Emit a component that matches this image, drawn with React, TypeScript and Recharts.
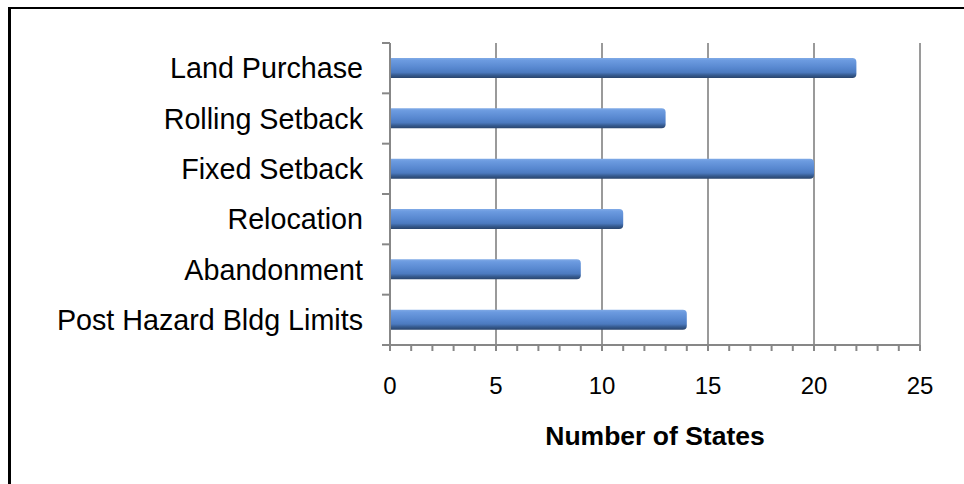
import { BarChart, Bar, XAxis, YAxis, CartesianGrid } from 'recharts'

// values
const categories = [
  'Land Purchase',
  'Rolling Setback',
  'Fixed Setback',
  'Relocation',
  'Abandonment',
  'Post Hazard Bldg Limits',
]
const states = [22, 13, 20, 11, 9, 14]
const xTicks = [0, 1, 2, 3, 4, 5, 6, 7, 8, 9, 10, 11, 12, 13, 14, 15, 16, 17, 18, 19, 20, 21, 22, 23, 24, 25]
const labelledTicks = [0, 5, 10, 15, 20, 25]
const gridValues = [5, 10, 15, 20, 25]

const data = categories.map((name, i) => ({ name, states: states[i] }))

const FONT = '"Liberation Sans", Arial, Helvetica, sans-serif'
const AXIS = '#878787'
const Y_TICK_SIZE = 8
const Y_TICK_MARGIN = 19

function CategoryTick(props: any) {
  const { x, y, payload, index, visibleTicksCount } = props
  const axisX = x + Y_TICK_SIZE + Y_TICK_MARGIN
  const half = payload.offset ?? 0
  const last = index === visibleTicksCount - 1
  return (
    <g>
      <line x1={axisX - Y_TICK_SIZE} x2={axisX} y1={y - half} y2={y - half} stroke={AXIS} strokeWidth={2} />
      {last && (
        <line x1={axisX - Y_TICK_SIZE} x2={axisX} y1={y + half} y2={y + half} stroke={AXIS} strokeWidth={2} />
      )}
      <text x={x} y={y} dy="0.355em" textAnchor="end" fontSize={28.7} fontFamily={FONT} fill="#000">
        {payload.value}
      </text>
    </g>
  )
}

function ValueTick(props: any) {
  const { x, y, payload } = props
  if (!labelledTicks.includes(payload.value)) return <g />
  return (
    <text x={x} y={y} dy="0.71em" textAnchor="middle" fontSize={24} fontFamily={FONT} fill="#000">
      {payload.value}
    </text>
  )
}

export default function App() {
  return (
    <div style={{ position: 'relative', width: 964, height: 484, overflow: 'hidden', background: '#fff' }}>
      <style>{'body{margin:0}'}</style>
      <div
        style={{
          position: 'absolute',
          left: 8,
          top: 7,
          width: 2000,
          height: 2000,
          borderLeft: '3px solid #000',
          borderTop: '2px solid #000',
        }}
      />
      <div style={{ position: 'absolute', left: 0, top: 0 }}>
        <BarChart
          width={964}
          height={484}
          data={data}
          layout="vertical"
          margin={{ top: 43, right: 44, bottom: 39, left: 0 }}
        >
          <defs>
            <linearGradient id="barFill" x1="0" y1="0" x2="0" y2="1">
              <stop offset="0%" stopColor="#80aae6" />
              <stop offset="12%" stopColor="#6c9be0" />
              <stop offset="50%" stopColor="#5787cf" />
              <stop offset="72%" stopColor="#4c7abf" />
              <stop offset="86%" stopColor="#365b90" />
              <stop offset="100%" stopColor="#29446c" />
            </linearGradient>
          </defs>
          <CartesianGrid horizontal={false} verticalValues={gridValues} stroke="#8f8f8f" strokeWidth={1.8} />
          <XAxis
            type="number"
            domain={[0, 25]}
            ticks={xTicks}
            interval={0}
            height={100}
            tickSize={6}
            tickMargin={26}
            axisLine={{ stroke: AXIS, strokeWidth: 2 }}
            tickLine={{ stroke: AXIS, strokeWidth: 2 }}
            tick={<ValueTick />}
            label={{
              value: 'Number of States',
              position: 'insideBottom',
              offset: 0,
              fontSize: 26.5,
              fontWeight: 'bold',
              fontFamily: FONT,
              fill: '#000',
            }}
          />
          <YAxis
            type="category"
            dataKey="name"
            width={390}
            tickSize={Y_TICK_SIZE}
            tickMargin={Y_TICK_MARGIN}
            axisLine={{ stroke: AXIS, strokeWidth: 2 }}
            tickLine={false}
            interval={0}
            tick={<CategoryTick />}
          />
          <Bar dataKey="states" barSize={20} fill="url(#barFill)" radius={[0, 4, 4, 0]} isAnimationActive={false} />
        </BarChart>
      </div>
    </div>
  )
}
